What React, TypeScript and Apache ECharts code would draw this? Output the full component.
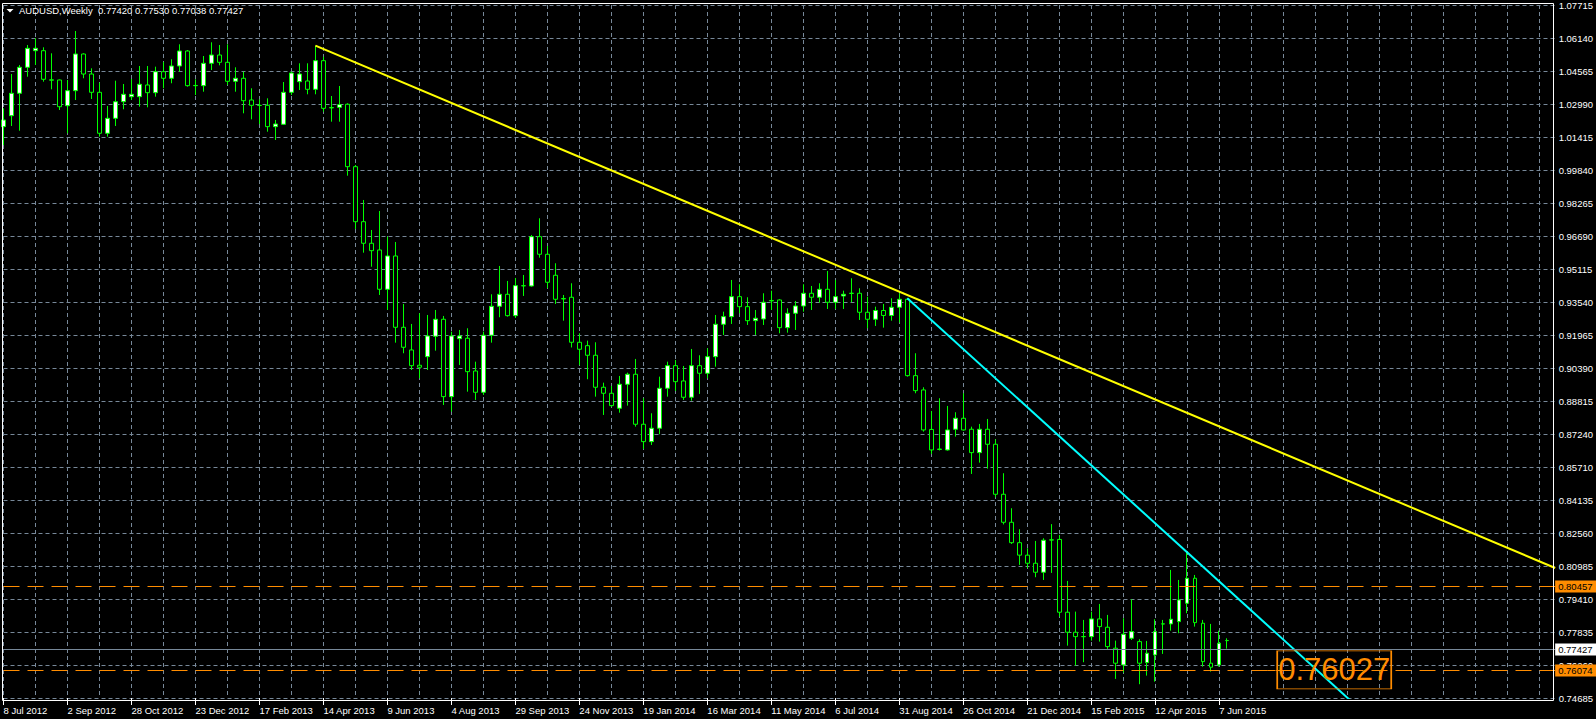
import React, { useEffect, useRef } from "react";
import * as echarts from "echarts";

// ---- categories: weekly bars starting 8 Jul 2012 (plus empty slots on the right) ----
const FIRST_WEEK = "2012-07-08";
const SLOT_COUNT = 195;
const categories: string[] = Array.from({ length: SLOT_COUNT }, (_, i) => {
  const d = new Date(Date.parse(FIRST_WEEK + "T00:00:00Z") + i * 7 * 86400000);
  return d.toISOString().slice(0, 10);
});

const xTickLabels = [
  "8 Jul 2012", "2 Sep 2012", "28 Oct 2012", "23 Dec 2012", "17 Feb 2013", "14 Apr 2013",
  "9 Jun 2013", "4 Aug 2013", "29 Sep 2013", "24 Nov 2013", "19 Jan 2014", "16 Mar 2014",
  "11 May 2014", "6 Jul 2014", "31 Aug 2014", "26 Oct 2014", "21 Dec 2014", "15 Feb 2015",
  "12 Apr 2015", "7 Jun 2015",
];

const yTickLabels = [
  "0.74685", "0.76260", "0.77835", "0.79410", "0.80985", "0.82560", "0.84135", "0.85710",
  "0.87240", "0.88815", "0.90390", "0.91965", "0.93540", "0.95115", "0.96690", "0.98265",
  "0.99840", "1.01415", "1.02990", "1.04565", "1.06140", "1.07715",
];

const opens = [
  1.01917, 1.02439, 1.03507, 1.04746, 1.05537, 1.05537, 1.04150, 1.04141, 1.02915, 1.03631,
  1.05379, 1.04426, 1.03554, 1.01601, 1.02315, 1.03106, 1.03345, 1.03345, 1.03903, 1.03536,
  1.04536, 1.04222, 1.04808, 1.05523, 1.03870, 1.03870, 1.04936, 1.05332, 1.04984, 1.04079,
  1.04222, 1.03187, 1.02934, 1.02934, 1.01917, 1.02029, 1.03554, 1.04060, 1.04093, 1.03697,
  1.05061, 1.02830, 1.02838, 1.02985, 1.00009, 0.97387, 0.96359, 0.96039, 0.94166, 0.95753,
  0.92354, 0.91273, 0.90544, 0.90954, 0.91926, 0.92737, 0.89048, 0.91812, 0.91831, 0.90272,
  0.89257, 0.91974, 0.93355, 0.93927, 0.92908, 0.94338, 0.94324, 0.96673, 0.95834, 0.94833,
  0.93727, 0.93785, 0.91640, 0.91478, 0.91021, 0.89496, 0.89210, 0.88495, 0.89638, 0.90115,
  0.87733, 0.86904, 0.87542, 0.89448, 0.90525, 0.89796, 0.89019, 0.90525, 0.90163, 0.90954,
  0.92498, 0.92861, 0.93814, 0.93337, 0.92670, 0.92751, 0.93632, 0.93656, 0.92336, 0.93022,
  0.93370, 0.93975, 0.93785, 0.94166, 0.93546, 0.93847, 0.93980, 0.93975, 0.93070, 0.92737,
  0.93155, 0.92918, 0.93308, 0.93689, 0.90049, 0.89368, 0.87485, 0.86550, 0.86508, 0.87494,
  0.88018, 0.87494, 0.86380, 0.87494, 0.86779, 0.84396, 0.83061, 0.82089, 0.81494, 0.81108,
  0.80679, 0.82224, 0.82243, 0.78773, 0.77820, 0.77615, 0.77610, 0.78454, 0.78058, 0.77058,
  0.76261, 0.77534, 0.77372, 0.76372, 0.76738, 0.78220, 0.78216, 0.78326, 0.79200, 0.80394,
  0.78248, 0.76343, 0.76261, 0.77420,
];

const highs = [
  1.02792, 1.04426, 1.04856, 1.05809, 1.06128, 1.05699, 1.05413, 1.04160, 1.04141, 1.06476,
  1.05413, 1.04698, 1.04012, 1.02902, 1.04108, 1.03950, 1.04188, 1.04808, 1.04808, 1.04775,
  1.04999, 1.05127, 1.05842, 1.05570, 1.04174, 1.05284, 1.05937, 1.05809, 1.05842, 1.04746,
  1.04536, 1.03745, 1.03220, 1.03268, 1.02235, 1.04045, 1.04536, 1.04936, 1.04936, 1.05775,
  1.05251, 1.03378, 1.03855, 1.03030, 1.00090, 0.98422, 0.96992, 0.97897, 0.96673, 0.96420,
  0.93465, 0.92513, 0.93022, 0.92941, 0.93179, 0.92894, 0.92146, 0.92226, 0.92308, 0.90715,
  0.92146, 0.93927, 0.95277, 0.94562, 0.94705, 0.94848, 0.96754, 0.97550, 0.96230, 0.95405,
  0.93894, 0.94452, 0.92069, 0.91717, 0.91640, 0.89715, 0.89557, 0.90034, 0.90191, 0.90845,
  0.88972, 0.88256, 0.90001, 0.90715, 0.90797, 0.90511, 0.91321, 0.91021, 0.91354, 0.92941,
  0.93099, 0.94610, 0.94405, 0.93785, 0.93179, 0.93975, 0.94099, 0.93689, 0.93260, 0.93608,
  0.94405, 0.94324, 0.94452, 0.95038, 0.94610, 0.94099, 0.94690, 0.94214, 0.93814, 0.93337,
  0.93465, 0.93737, 0.93975, 0.93737, 0.91116, 0.89496, 0.88367, 0.88972, 0.88605, 0.88305,
  0.89210, 0.87618, 0.87747, 0.87985, 0.87017, 0.85398, 0.83729, 0.82729, 0.81823, 0.82171,
  0.82299, 0.82972, 0.82457, 0.80265, 0.78802, 0.78406, 0.78802, 0.79168, 0.78645, 0.77420,
  0.78487, 0.79392, 0.77486, 0.77405, 0.78439, 0.78406, 0.80790, 0.80312, 0.81661, 0.80550,
  0.78406, 0.78216, 0.77896, 0.77530,
];

const lows = [
  1.01043, 1.01948, 1.01724, 1.04298, 1.04856, 1.04060, 1.03697, 1.02711, 1.01601, 1.03187,
  1.04222, 1.03235, 1.01439, 1.01439, 1.01948, 1.02744, 1.03187, 1.02868, 1.02839, 1.03345,
  1.03745, 1.03984, 1.04536, 1.03822, 1.03426, 1.03583, 1.04617, 1.04841, 1.03903, 1.03583,
  1.02553, 1.02267, 1.02043, 1.01677, 1.01281, 1.01995, 1.03426, 1.03664, 1.03459, 1.03459,
  1.02630, 1.02154, 1.02154, 0.99580, 0.97039, 0.95910, 0.95242, 0.93894, 0.93179, 0.91621,
  0.91116, 0.90320, 0.89924, 0.90320, 0.91240, 0.88652, 0.88333, 0.90559, 0.89286, 0.88891,
  0.89129, 0.91621, 0.92832, 0.92861, 0.92799, 0.93847, 0.94290, 0.95672, 0.94214, 0.93465,
  0.92670, 0.91392, 0.90559, 0.89877, 0.89048, 0.88176, 0.88572, 0.88285, 0.88620, 0.87618,
  0.86555, 0.86746, 0.87256, 0.89048, 0.89320, 0.88891, 0.88858, 0.89177, 0.89924, 0.90478,
  0.91988, 0.92513, 0.93022, 0.92465, 0.91988, 0.92465, 0.93179, 0.92069, 0.92098, 0.92226,
  0.93099, 0.93179, 0.93528, 0.93227, 0.93227, 0.93227, 0.93546, 0.92703, 0.92308, 0.92417,
  0.92336, 0.92670, 0.92584, 0.90001, 0.89210, 0.87380, 0.86317, 0.86484, 0.86474, 0.87142,
  0.87428, 0.85364, 0.85903, 0.85617, 0.84253, 0.82957, 0.82027, 0.81028, 0.80870, 0.80441,
  0.80312, 0.80646, 0.78564, 0.77180, 0.76229, 0.76391, 0.77420, 0.77372, 0.77025, 0.75595,
  0.75894, 0.77453, 0.75342, 0.75752, 0.75466, 0.76786, 0.77896, 0.77773, 0.78725, 0.78087,
  0.76180, 0.75942, 0.76180, 0.77038,
];

const closes = [
  1.02234, 1.03507, 1.04746, 1.05651, 1.05651, 1.04174, 1.04131, 1.02867, 1.03631, 1.05379,
  1.04426, 1.03554, 1.01601, 1.02315, 1.03106, 1.03459, 1.03459, 1.03936, 1.03536, 1.04536,
  1.04222, 1.04808, 1.05523, 1.03870, 1.03880, 1.04936, 1.05332, 1.04984, 1.04079, 1.04222,
  1.03154, 1.02934, 1.02925, 1.01917, 1.02043, 1.03554, 1.04474, 1.04426, 1.03697, 1.05061,
  1.02790, 1.02810, 1.02965, 1.00009, 0.97387, 0.96359, 0.96006, 0.94166, 0.95753, 0.92354,
  0.91402, 0.90525, 0.90449, 0.91940, 0.92737, 0.89048, 0.91940, 0.91940, 0.90239, 0.89257,
  0.91974, 0.93355, 0.93927, 0.92908, 0.94338, 0.94328, 0.96673, 0.95834, 0.94500, 0.93689,
  0.93704, 0.91640, 0.91306, 0.91021, 0.89496, 0.89210, 0.88620, 0.89638, 0.90115, 0.87733,
  0.86904, 0.87542, 0.89448, 0.90525, 0.89762, 0.89019, 0.90525, 0.90163, 0.90954, 0.92498,
  0.92861, 0.93814, 0.93337, 0.92670, 0.92785, 0.93546, 0.93613, 0.92336, 0.93022, 0.93370,
  0.93975, 0.93785, 0.94166, 0.93546, 0.93814, 0.93927, 0.93966, 0.93070, 0.92737, 0.93155,
  0.92918, 0.93308, 0.93689, 0.90049, 0.89334, 0.87461, 0.86508, 0.86531, 0.87461, 0.88018,
  0.87461, 0.86380, 0.87494, 0.86779, 0.84396, 0.83061, 0.82089, 0.81494, 0.81108, 0.80679,
  0.82204, 0.82214, 0.78773, 0.77820, 0.77610, 0.77606, 0.78454, 0.78087, 0.77134, 0.76343,
  0.77725, 0.77849, 0.76343, 0.76820, 0.77849, 0.78211, 0.78439, 0.79359, 0.80394, 0.78278,
  0.76419, 0.76152, 0.77296, 0.77427,
];

// trend lines: [bar index, price]
const yellowTrend: [number, number][] = [[39, 1.05775], [194, 0.80882]];
const cyanTrend: [number, number][] = [[113, 0.93737], [170, 0.74012]];

// horizontal levels
const resistanceLevel = 0.80457;
const supportLevel = 0.76074;
const bidLevel = 0.77427;
const priceLabel = { bar: 159, price: 0.76027, text: "0.76027" };

const titleText = "AUDUSD,Weekly  0.77420 0.77530 0.77038 0.77427";

const FONT = '"Liberation Sans", Arial, sans-serif';
const GRID_COLOR = "#778899";
const ORANGE = "#FF8C00";

export default function App() {
  const ref = useRef<HTMLDivElement>(null);

  useEffect(() => {
    document.body.style.margin = "0";
    document.body.style.background = "#000";
    if (!ref.current) return;
    const chart = echarts.init(ref.current, null, { renderer: "svg" });

    const candles = opens.map((o, i) => [o, closes[i], lows[i], highs[i]]);
    const labelInterval = (i: number) => i % 8 === 0 && i / 8 < xTickLabels.length;

    const tag = (bg: string) => ({
      show: true,
      position: "end",
      distance: 0,
      color: "#000",
      backgroundColor: bg,
      padding: [1, 5, 1, 3],
      fontSize: 9.5,
      fontFamily: FONT,
    });

    chart.setOption({
      animation: false,
      backgroundColor: "#000",
      textStyle: { fontFamily: FONT },
      grid: { left: 3.5, top: 5, width: 1552, height: 693, containLabel: false },
      xAxis: {
        type: "category",
        data: categories,
        boundaryGap: false,
        axisLine: { show: false },
        axisTick: {
          show: true,
          interval: labelInterval,
          length: 7,
          lineStyle: { color: "#ffffff", width: 1 },
        },
        axisLabel: {
          interval: labelInterval,
          color: "#ffffff",
          fontSize: 9.5,
          fontFamily: FONT,
          align: "left",
          margin: 7,
          formatter: (_v: string, i: number) => xTickLabels[i / 8] ?? "",
        },
        splitLine: {
          show: true,
          interval: (i: number) => i % 4 === 0,
          lineStyle: { color: GRID_COLOR, type: [4, 3], width: 1 },
        },
      },
      yAxis: [
        { type: "value", min: 0.74685, max: 1.07715, show: false },
        {
          type: "value",
          min: 0,
          max: 21,
          interval: 1,
          position: "right",
          axisLine: { show: false },
          axisTick: { show: false },
          axisLabel: {
            color: "#ffffff",
            fontSize: 9.5,
            fontFamily: FONT,
            margin: 3.5,
            showMinLabel: true,
            showMaxLabel: true,
            formatter: (v: number) => yTickLabels[Math.round(v)] ?? "",
          },
          splitLine: { show: true, lineStyle: { color: GRID_COLOR, type: [4, 3], width: 1 } },
        },
      ],
      series: [
        {
          type: "candlestick",
          yAxisIndex: 0,
          data: candles,
          barWidth: 4,
          clip: false,
          z: 3,
          itemStyle: {
            color: "#ffffff",
            color0: "#000000",
            borderColor: "#00FF00",
            borderColor0: "#00FF00",
            borderWidth: 1,
          },
          markLine: {
            silent: true,
            symbol: ["none", "none"],
            animation: false,
            data: [
              {
                yAxis: resistanceLevel,
                lineStyle: { color: ORANGE, type: [16, 8], width: 1 },
                label: { ...tag(ORANGE), formatter: resistanceLevel.toFixed(5) },
              },
              {
                yAxis: bidLevel,
                lineStyle: { color: GRID_COLOR, type: "solid", width: 1 },
                label: { ...tag("#ffffff"), formatter: bidLevel.toFixed(5) },
              },
              {
                yAxis: supportLevel,
                lineStyle: { color: ORANGE, type: [16, 8], width: 1 },
                label: { ...tag(ORANGE), formatter: supportLevel.toFixed(5) },
              },
              [
                { coord: [priceLabel.bar - 1, priceLabel.price], lineStyle: { color: ORANGE, type: "solid", width: 1 }, label: { show: false } },
                { coord: [priceLabel.bar, priceLabel.price] },
              ],
            ],
          },
          markPoint: {
            silent: true,
            animation: false,
            data: [
              {
                coord: [priceLabel.bar, priceLabel.price],
                symbol: "rect",
                symbolSize: [114, 38],
                symbolOffset: [59, 0],
                itemStyle: { color: "rgba(0,0,0,0)", borderColor: ORANGE, borderWidth: 1 },
                label: {
                  show: true,
                  position: "inside",
                  formatter: priceLabel.text,
                  color: ORANGE,
                  fontSize: 31,
                  fontFamily: FONT,
                },
              },
            ],
          },
        },
        {
          type: "line",
          yAxisIndex: 0,
          data: yellowTrend,
          symbol: "none",
          silent: true,
          z: 4,
          lineStyle: { color: "#FFFF00", width: 2 },
        },
        {
          type: "line",
          yAxisIndex: 0,
          data: cyanTrend,
          symbol: "none",
          silent: true,
          z: 4,
          lineStyle: { color: "#00FFFF", width: 2 },
        },
      ],
      graphic: [
        {
          type: "rect",
          z: 100,
          silent: true,
          shape: { x: 2.5, y: 3.5, width: 1551, height: 697 },
          style: { fill: "transparent", stroke: "#ffffff", lineWidth: 1 },
        },
        {
          type: "polygon",
          z: 100,
          silent: true,
          shape: { points: [[6.5, 9], [13.5, 9], [10, 12.5]] },
          style: { fill: "#ffffff" },
        },
        {
          type: "text",
          z: 100,
          silent: true,
          x: 19,
          y: 10.5,
          style: {
            text: titleText,
            fill: "#ffffff",
            font: `9.5px ${FONT}`,
            textVerticalAlign: "middle",
            verticalAlign: "middle",
          },
        },
      ],
    });

    return () => chart.dispose();
  }, []);

  return (
    <div
      ref={ref}
      style={{ position: "absolute", left: 0, top: 0, width: 1596, height: 719, background: "#000" }}
    />
  );
}
